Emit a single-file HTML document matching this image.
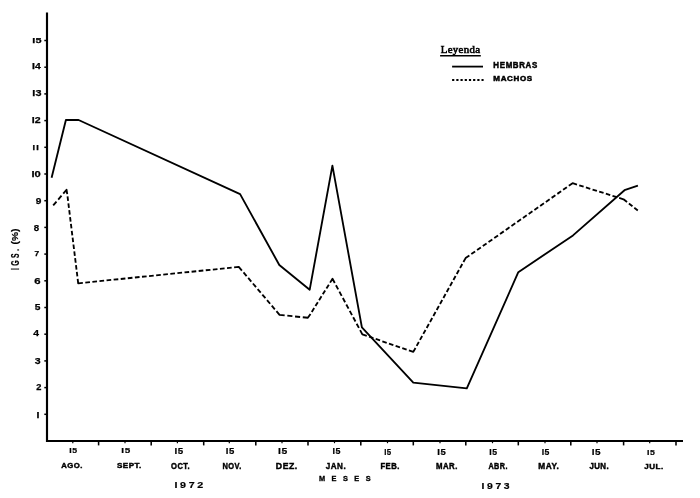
<!DOCTYPE html>
<html><head><meta charset="utf-8"><style>html,body{margin:0;padding:0;background:#fff;width:700px;height:498px;overflow:hidden}svg{display:block;will-change:transform}</style></head><body>
<svg width="700" height="498" viewBox="0 0 700 498">
<rect width="700" height="498" fill="#fff"/>
<path d="M47,12.5 V441 H683" fill="none" stroke="#000" stroke-width="2.15"/>
<line x1="44.3" y1="414.3" x2="47" y2="414.3" stroke="#000" stroke-width="1.5"/>
<line x1="44.3" y1="387.6" x2="47" y2="387.6" stroke="#000" stroke-width="1.5"/>
<line x1="44.3" y1="360.9" x2="47" y2="360.9" stroke="#000" stroke-width="1.5"/>
<line x1="44.3" y1="334.2" x2="47" y2="334.2" stroke="#000" stroke-width="1.5"/>
<line x1="44.3" y1="307.5" x2="47" y2="307.5" stroke="#000" stroke-width="1.5"/>
<line x1="44.3" y1="280.8" x2="47" y2="280.8" stroke="#000" stroke-width="1.5"/>
<line x1="44.3" y1="254.1" x2="47" y2="254.1" stroke="#000" stroke-width="1.5"/>
<line x1="44.3" y1="227.4" x2="47" y2="227.4" stroke="#000" stroke-width="1.5"/>
<line x1="44.3" y1="200.7" x2="47" y2="200.7" stroke="#000" stroke-width="1.5"/>
<line x1="44.3" y1="174.0" x2="47" y2="174.0" stroke="#000" stroke-width="1.5"/>
<line x1="44.3" y1="147.3" x2="47" y2="147.3" stroke="#000" stroke-width="1.5"/>
<line x1="44.3" y1="120.6" x2="47" y2="120.6" stroke="#000" stroke-width="1.5"/>
<line x1="44.3" y1="93.9" x2="47" y2="93.9" stroke="#000" stroke-width="1.5"/>
<line x1="44.3" y1="67.2" x2="47" y2="67.2" stroke="#000" stroke-width="1.5"/>
<line x1="44.3" y1="40.5" x2="47" y2="40.5" stroke="#000" stroke-width="1.5"/>
<line x1="98.6" y1="441" x2="98.6" y2="445.4" stroke="#000" stroke-width="1.55"/>
<line x1="151.2" y1="441" x2="151.2" y2="445.4" stroke="#000" stroke-width="1.55"/>
<line x1="203.7" y1="441" x2="203.7" y2="445.4" stroke="#000" stroke-width="1.55"/>
<line x1="255.8" y1="441" x2="255.8" y2="445.4" stroke="#000" stroke-width="1.55"/>
<line x1="308.0" y1="441" x2="308.0" y2="445.4" stroke="#000" stroke-width="1.55"/>
<line x1="360.8" y1="441" x2="360.8" y2="445.4" stroke="#000" stroke-width="1.55"/>
<line x1="413.3" y1="441" x2="413.3" y2="445.4" stroke="#000" stroke-width="1.55"/>
<line x1="465.8" y1="441" x2="465.8" y2="445.4" stroke="#000" stroke-width="1.55"/>
<line x1="518.3" y1="441" x2="518.3" y2="445.4" stroke="#000" stroke-width="1.55"/>
<line x1="570.8" y1="441" x2="570.8" y2="445.4" stroke="#000" stroke-width="1.55"/>
<line x1="623.6" y1="441" x2="623.6" y2="445.4" stroke="#000" stroke-width="1.55"/>
<line x1="676.0" y1="441" x2="676.0" y2="445.4" stroke="#000" stroke-width="1.55"/>
<line x1="72.8" y1="441" x2="72.8" y2="443.2" stroke="#000" stroke-width="1.2"/>
<line x1="125.0" y1="441" x2="125.0" y2="443.2" stroke="#000" stroke-width="1.2"/>
<line x1="177.4" y1="441" x2="177.4" y2="443.2" stroke="#000" stroke-width="1.2"/>
<line x1="229.3" y1="441" x2="229.3" y2="443.2" stroke="#000" stroke-width="1.2"/>
<line x1="282.0" y1="441" x2="282.0" y2="443.2" stroke="#000" stroke-width="1.2"/>
<line x1="334.5" y1="441" x2="334.5" y2="443.2" stroke="#000" stroke-width="1.2"/>
<line x1="387.5" y1="441" x2="387.5" y2="443.2" stroke="#000" stroke-width="1.2"/>
<line x1="440.0" y1="441" x2="440.0" y2="443.2" stroke="#000" stroke-width="1.2"/>
<line x1="492.5" y1="441" x2="492.5" y2="443.2" stroke="#000" stroke-width="1.2"/>
<line x1="545.0" y1="441" x2="545.0" y2="443.2" stroke="#000" stroke-width="1.2"/>
<line x1="597.0" y1="441" x2="597.0" y2="443.2" stroke="#000" stroke-width="1.2"/>
<line x1="649.7" y1="441" x2="649.7" y2="443.2" stroke="#000" stroke-width="1.2"/>
<polyline points="51.6,177.8 65.9,120.0 78.6,120.0 240.1,194.1 279.3,265.0 309.7,289.7 332.4,165.6 361.9,327.4 413.3,382.6 466.8,388.4 518.3,272.2 573.0,235.4 624.5,190.2 637.9,185.7" fill="none" stroke="#000" stroke-width="1.85" stroke-linejoin="round"/>
<path d="M53.20,205.40 L56.50,201.54 M58.22,199.53 L61.52,195.66 M63.24,193.65 L66.54,189.79 L67.25,194.11 M67.54,196.46 L68.10,200.97 M68.38,203.33 L68.94,207.84 M69.23,210.19 L69.78,214.70 M70.07,217.05 L70.62,221.56 M70.91,223.92 L71.47,228.43 M71.75,230.78 L72.31,235.29 M72.60,237.64 L73.15,242.15 M73.44,244.50 L73.99,249.01 M74.28,251.37 L74.83,255.88 M75.12,258.23 L75.68,262.74 M75.97,265.09 L76.52,269.60 M76.81,271.96 L77.36,276.47 M77.65,278.82 L78.20,283.30 L82.86,282.82 M85.29,282.58 L89.94,282.10 M92.37,281.85 L97.03,281.38 M99.46,281.13 L104.12,280.65 M106.55,280.41 L111.20,279.93 M113.63,279.68 L118.29,279.21 M120.72,278.96 L125.38,278.48 M127.80,278.23 L132.46,277.76 M134.89,277.51 L139.55,277.04 M141.98,276.79 L146.63,276.31 M149.06,276.06 L153.72,275.59 M156.15,275.34 L160.81,274.86 M163.24,274.62 L167.89,274.14 M170.32,273.89 L174.98,273.42 M177.41,273.17 L182.07,272.69 M184.50,272.45 L189.15,271.97 M191.58,271.72 L196.24,271.25 M198.67,271.00 L203.33,270.52 M205.76,270.27 L210.41,269.80 M212.84,269.55 L217.50,269.08 M219.93,268.83 L224.59,268.35 M227.01,268.10 L231.67,267.63 M234.10,267.38 L238.76,266.90 L241.89,270.54 M243.51,272.44 L246.60,276.07 M248.21,277.97 L251.30,281.61 M252.92,283.51 L256.01,287.15 M257.62,289.05 L260.72,292.68 M262.33,294.58 L265.42,298.22 M267.04,300.12 L270.13,303.76 M271.74,305.66 L274.83,309.29 M276.45,311.19 L279.54,314.83 L284.67,315.42 M287.32,315.69 L292.40,316.20 M295.04,316.47 L300.12,316.99 M302.77,317.26 L307.84,317.77 L310.51,313.95 M311.77,311.94 L314.18,308.09 M315.44,306.08 L317.85,302.22 M319.10,300.21 L321.51,296.36 M322.77,294.35 L325.18,290.50 M326.44,288.49 L328.85,284.64 M330.11,282.63 L332.50,278.80 L334.77,283.01 M335.95,285.21 L338.21,289.43 M339.40,291.63 L341.66,295.84 M342.85,298.04 L345.11,302.25 M346.29,304.45 L348.56,308.66 M349.74,310.86 L352.01,315.08 M353.19,317.28 L355.46,321.49 M356.64,323.69 L358.91,327.90 M360.09,330.10 L362.35,334.32 L366.77,335.90 M369.05,336.69 L373.41,338.19 M375.69,338.97 L380.06,340.47 M382.34,341.26 L386.71,342.76 M388.98,343.54 L393.35,345.04 M395.63,345.83 L400.00,347.33 M402.28,348.11 L406.64,349.61 M408.92,350.40 L413.29,351.90 L415.50,347.96 M416.64,345.91 L418.84,341.97 M419.98,339.91 L422.18,335.97 M423.33,333.92 L425.52,329.98 M426.67,327.93 L428.86,323.99 M430.01,321.93 L432.21,317.99 M433.35,315.94 L435.55,312.00 M436.69,309.95 L438.89,306.01 M440.03,303.95 L442.23,300.01 M443.38,297.96 L445.57,294.02 M446.72,291.96 L448.91,288.03 M450.06,285.97 L452.26,282.03 M453.40,279.98 L455.60,276.04 M456.74,273.98 L458.94,270.05 M460.09,267.99 L462.28,264.05 M463.43,262.00 L465.60,258.10 L469.37,255.46 M471.34,254.09 L475.10,251.45 M477.07,250.07 L480.84,247.43 M482.81,246.06 L486.57,243.42 M488.54,242.04 L492.31,239.40 M494.28,238.03 L498.04,235.39 M500.01,234.01 L503.78,231.37 M505.75,230.00 L509.51,227.36 M511.48,225.98 L515.25,223.35 M517.22,221.97 L520.98,219.33 M522.95,217.95 L526.72,215.32 M528.69,213.94 L532.45,211.30 M534.42,209.93 L538.19,207.29 M540.16,205.91 L543.92,203.27 M545.89,201.90 L549.66,199.26 M551.63,197.88 L555.39,195.24 M557.36,193.87 L561.13,191.23 M563.10,189.85 L566.86,187.21 M568.83,185.84 L572.60,183.20 L576.97,184.58 M579.25,185.30 L583.62,186.68 M585.90,187.41 L590.27,188.79 M592.55,189.51 L596.91,190.89 M599.19,191.61 L603.56,192.99 M605.84,193.71 L610.21,195.10 M612.49,195.82 L616.86,197.20 M619.14,197.92 L623.50,199.30 L627.05,202.05 M628.90,203.49 L632.45,206.24 M634.30,207.68 L637.80,210.40" fill="none" stroke="#000" stroke-width="1.85" stroke-linejoin="round"/>
<line x1="452.1" y1="66.6" x2="483" y2="66.6" stroke="#000" stroke-width="1.8"/>
<line x1="452.1" y1="80.0" x2="483.6" y2="80.0" stroke="#000" stroke-width="1.8" stroke-dasharray="2.2,2"/>
<line x1="440.1" y1="55.8" x2="480.8" y2="55.8" stroke="#000" stroke-width="1.6"/>
<text x="440.72" y="53.02" font-family='"Liberation Serif", serif' font-size="9.73" font-weight="normal" letter-spacing="0.29" textLength="39.56" lengthAdjust="spacingAndGlyphs" stroke="#000" stroke-width="0.55">Leyenda</text>
<text x="493.36" y="68.24" font-family='"Liberation Sans", sans-serif' font-size="8.97" font-weight="bold" letter-spacing="0.72" textLength="44.50" lengthAdjust="spacingAndGlyphs" stroke="#000" stroke-width="0.5">HEMBRAS</text>
<text x="493.36" y="81.36" font-family='"Liberation Sans", sans-serif' font-size="7.45" font-weight="bold" letter-spacing="0.60" textLength="39.50" lengthAdjust="spacingAndGlyphs" stroke="#000" stroke-width="0.5">MACHOS</text>
<text x="36.62" y="417.98" font-family='"Liberation Sans", sans-serif' font-size="8.53" font-weight="bold" letter-spacing="0.00" textLength="2.96" lengthAdjust="spacingAndGlyphs" stroke="#000" stroke-width="0.25">I</text>
<text x="36.28" y="389.98" font-family='"Liberation Sans", sans-serif' font-size="8.20" font-weight="bold" letter-spacing="0.00" textLength="5.16" lengthAdjust="spacingAndGlyphs" stroke="#000" stroke-width="0.25">2</text>
<text x="34.78" y="363.58" font-family='"Liberation Sans", sans-serif' font-size="9.37" font-weight="bold" letter-spacing="0.00" textLength="5.88" lengthAdjust="spacingAndGlyphs" stroke="#000" stroke-width="0.25">3</text>
<text x="33.24" y="335.98" font-family='"Liberation Sans", sans-serif' font-size="8.45" font-weight="bold" letter-spacing="0.00" textLength="5.76" lengthAdjust="spacingAndGlyphs" stroke="#000" stroke-width="0.25">4</text>
<text x="34.78" y="309.58" font-family='"Liberation Sans", sans-serif' font-size="9.30" font-weight="bold" letter-spacing="0.00" textLength="5.68" lengthAdjust="spacingAndGlyphs" stroke="#000" stroke-width="0.25">5</text>
<text x="34.34" y="283.58" font-family='"Liberation Sans", sans-serif' font-size="9.34" font-weight="bold" letter-spacing="0.00" textLength="6.32" lengthAdjust="spacingAndGlyphs" stroke="#000" stroke-width="0.25">6</text>
<text x="34.54" y="256.48" font-family='"Liberation Sans", sans-serif' font-size="7.46" font-weight="bold" letter-spacing="0.00" textLength="4.66" lengthAdjust="spacingAndGlyphs" stroke="#000" stroke-width="0.25">7</text>
<text x="33.78" y="230.58" font-family='"Liberation Sans", sans-serif' font-size="9.34" font-weight="bold" letter-spacing="0.00" textLength="5.42" lengthAdjust="spacingAndGlyphs" stroke="#000" stroke-width="0.25">8</text>
<text x="35.82" y="204.06" font-family='"Liberation Sans", sans-serif' font-size="8.30" font-weight="bold" letter-spacing="0.00" textLength="5.62" lengthAdjust="spacingAndGlyphs" stroke="#000" stroke-width="0.25">9</text>
<text x="31.40" y="176.58" font-family='"Liberation Sans", sans-serif' font-size="8.62" font-weight="bold" letter-spacing="0.00" textLength="9.30" lengthAdjust="spacingAndGlyphs" stroke="#000" stroke-width="0.25">I0</text>
<text x="32.64" y="149.98" font-family='"Liberation Sans", sans-serif' font-size="7.46" font-weight="bold" letter-spacing="0.89" textLength="7.22" lengthAdjust="spacingAndGlyphs" stroke="#000" stroke-width="0.25">II</text>
<text x="31.86" y="123.24" font-family='"Liberation Sans", sans-serif' font-size="8.60" font-weight="bold" letter-spacing="0.00" textLength="8.80" lengthAdjust="spacingAndGlyphs" stroke="#000" stroke-width="0.25">I2</text>
<text x="32.38" y="96.08" font-family='"Liberation Sans", sans-serif' font-size="8.62" font-weight="bold" letter-spacing="0.00" textLength="9.06" lengthAdjust="spacingAndGlyphs" stroke="#000" stroke-width="0.25">I3</text>
<text x="32.14" y="68.98" font-family='"Liberation Sans", sans-serif' font-size="8.17" font-weight="bold" letter-spacing="0.00" textLength="8.64" lengthAdjust="spacingAndGlyphs" stroke="#000" stroke-width="0.25">I4</text>
<text x="32.38" y="42.58" font-family='"Liberation Sans", sans-serif' font-size="7.88" font-weight="bold" letter-spacing="0.00" textLength="9.06" lengthAdjust="spacingAndGlyphs" stroke="#000" stroke-width="0.25">I5</text>
<text x="61.26" y="468.30" font-family='"Liberation Sans", sans-serif' font-size="7.90" font-weight="bold" letter-spacing="0.47" textLength="21.60" lengthAdjust="spacingAndGlyphs" stroke="#000" stroke-width="0.45">AGO.</text>
<text x="116.94" y="468.36" font-family='"Liberation Sans", sans-serif' font-size="7.90" font-weight="bold" letter-spacing="0.47" textLength="24.92" lengthAdjust="spacingAndGlyphs" stroke="#000" stroke-width="0.45">SEPT.</text>
<text x="171.06" y="468.80" font-family='"Liberation Sans", sans-serif' font-size="8.64" font-weight="bold" letter-spacing="0.52" textLength="19.12" lengthAdjust="spacingAndGlyphs" stroke="#000" stroke-width="0.45">OCT.</text>
<text x="222.54" y="468.80" font-family='"Liberation Sans", sans-serif' font-size="8.64" font-weight="bold" letter-spacing="0.52" textLength="19.32" lengthAdjust="spacingAndGlyphs" stroke="#000" stroke-width="0.45">NOV.</text>
<text x="275.86" y="468.80" font-family='"Liberation Sans", sans-serif' font-size="8.64" font-weight="bold" letter-spacing="0.52" textLength="21.88" lengthAdjust="spacingAndGlyphs" stroke="#000" stroke-width="0.45">DEZ.</text>
<text x="325.82" y="468.80" font-family='"Liberation Sans", sans-serif' font-size="9.07" font-weight="bold" letter-spacing="0.54" textLength="20.30" lengthAdjust="spacingAndGlyphs" stroke="#000" stroke-width="0.45">JAN.</text>
<text x="380.42" y="468.86" font-family='"Liberation Sans", sans-serif' font-size="8.50" font-weight="bold" letter-spacing="0.51" textLength="19.32" lengthAdjust="spacingAndGlyphs" stroke="#000" stroke-width="0.45">FEB.</text>
<text x="436.04" y="468.92" font-family='"Liberation Sans", sans-serif' font-size="8.50" font-weight="bold" letter-spacing="0.51" textLength="21.76" lengthAdjust="spacingAndGlyphs" stroke="#000" stroke-width="0.45">MAR.</text>
<text x="488.38" y="468.98" font-family='"Liberation Sans", sans-serif' font-size="8.42" font-weight="bold" letter-spacing="0.51" textLength="19.48" lengthAdjust="spacingAndGlyphs" stroke="#000" stroke-width="0.45">ABR.</text>
<text x="538.36" y="468.98" font-family='"Liberation Sans", sans-serif' font-size="8.64" font-weight="bold" letter-spacing="0.52" textLength="20.94" lengthAdjust="spacingAndGlyphs" stroke="#000" stroke-width="0.45">MAY.</text>
<text x="589.38" y="468.98" font-family='"Liberation Sans", sans-serif' font-size="8.42" font-weight="bold" letter-spacing="0.51" textLength="19.80" lengthAdjust="spacingAndGlyphs" stroke="#000" stroke-width="0.45">JUN.</text>
<text x="644.38" y="468.98" font-family='"Liberation Sans", sans-serif' font-size="7.71" font-weight="bold" letter-spacing="0.46" textLength="19.36" lengthAdjust="spacingAndGlyphs" stroke="#000" stroke-width="0.45">JUL.</text>
<text x="69.22" y="452.86" font-family='"Liberation Sans", sans-serif' font-size="7.71" font-weight="bold" letter-spacing="0.46" textLength="8.32" lengthAdjust="spacingAndGlyphs" stroke="#000" stroke-width="0.2">I5</text>
<text x="121.34" y="452.80" font-family='"Liberation Sans", sans-serif' font-size="7.64" font-weight="bold" letter-spacing="0.46" textLength="9.46" lengthAdjust="spacingAndGlyphs" stroke="#000" stroke-width="0.2">I5</text>
<text x="174.40" y="453.92" font-family='"Liberation Sans", sans-serif' font-size="8.77" font-weight="bold" letter-spacing="0.53" textLength="9.34" lengthAdjust="spacingAndGlyphs" stroke="#000" stroke-width="0.2">I5</text>
<text x="225.84" y="453.92" font-family='"Liberation Sans", sans-serif' font-size="8.77" font-weight="bold" letter-spacing="0.53" textLength="9.14" lengthAdjust="spacingAndGlyphs" stroke="#000" stroke-width="0.2">I5</text>
<text x="277.96" y="453.92" font-family='"Liberation Sans", sans-serif' font-size="8.77" font-weight="bold" letter-spacing="0.53" textLength="9.90" lengthAdjust="spacingAndGlyphs" stroke="#000" stroke-width="0.2">I5</text>
<text x="332.54" y="453.98" font-family='"Liberation Sans", sans-serif' font-size="8.17" font-weight="bold" letter-spacing="0.49" textLength="8.50" lengthAdjust="spacingAndGlyphs" stroke="#000" stroke-width="0.2">I5</text>
<text x="384.16" y="454.80" font-family='"Liberation Sans", sans-serif' font-size="8.64" font-weight="bold" letter-spacing="0.52" textLength="7.50" lengthAdjust="spacingAndGlyphs" stroke="#000" stroke-width="0.2">I5</text>
<text x="437.34" y="454.80" font-family='"Liberation Sans", sans-serif' font-size="8.36" font-weight="bold" letter-spacing="0.50" textLength="9.08" lengthAdjust="spacingAndGlyphs" stroke="#000" stroke-width="0.2">I5</text>
<text x="489.22" y="454.80" font-family='"Liberation Sans", sans-serif' font-size="8.36" font-weight="bold" letter-spacing="0.50" textLength="8.32" lengthAdjust="spacingAndGlyphs" stroke="#000" stroke-width="0.2">I5</text>
<text x="541.66" y="454.80" font-family='"Liberation Sans", sans-serif' font-size="8.36" font-weight="bold" letter-spacing="0.50" textLength="8.32" lengthAdjust="spacingAndGlyphs" stroke="#000" stroke-width="0.2">I5</text>
<text x="591.66" y="454.98" font-family='"Liberation Sans", sans-serif' font-size="8.64" font-weight="bold" letter-spacing="0.52" textLength="9.52" lengthAdjust="spacingAndGlyphs" stroke="#000" stroke-width="0.2">I5</text>
<text x="647.04" y="454.80" font-family='"Liberation Sans", sans-serif' font-size="7.71" font-weight="bold" letter-spacing="0.46" textLength="8.32" lengthAdjust="spacingAndGlyphs" stroke="#000" stroke-width="0.2">I5</text>
<text x="318.92" y="480.86" font-family='"Liberation Sans", sans-serif' font-size="7.93" font-weight="bold" letter-spacing="2.38" textLength="53.86" lengthAdjust="spacingAndGlyphs" stroke="#000" stroke-width="0.35">M E S E S</text>
<text x="174.40" y="488.06" font-family='"Liberation Sans", sans-serif' font-size="9.69" font-weight="bold" letter-spacing="2.42" textLength="31.58" lengthAdjust="spacingAndGlyphs" stroke="#000" stroke-width="0.2">I972</text>
<text x="481.62" y="489.34" font-family='"Liberation Sans", sans-serif' font-size="8.93" font-weight="bold" letter-spacing="2.23" textLength="30.64" lengthAdjust="spacingAndGlyphs" stroke="#000" stroke-width="0.2">I973</text>
<text transform="translate(18.98,270.08) rotate(-90)" x="0" y="0" font-family='"Liberation Sans", sans-serif' font-size="10.38" font-weight="bold" letter-spacing="3.63" textLength="23.32" lengthAdjust="spacingAndGlyphs" stroke="#000" stroke-width="0.2">IGS.</text>
<text transform="translate(17.74,244.40) rotate(-90)" x="0" y="0" font-family='"Liberation Sans", sans-serif' font-size="9.45" font-weight="bold" letter-spacing="0.00" textLength="15.86" lengthAdjust="spacingAndGlyphs" stroke="#000" stroke-width="0.2">(%)</text>
</svg>
</body></html>
